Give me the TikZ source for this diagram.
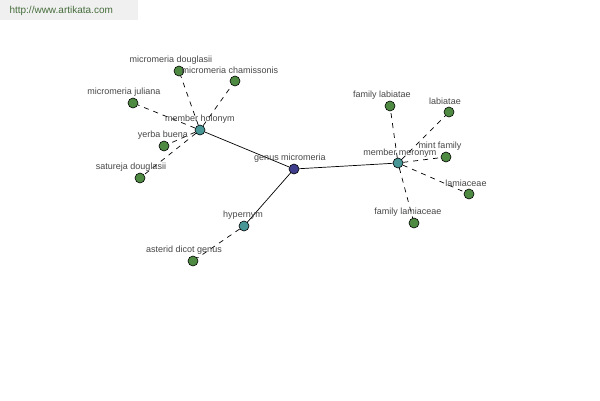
\documentclass[tikz,border=0pt]{standalone}
\usepackage{fontspec}
\setmainfont{Liberation Sans}
\usetikzlibrary{backgrounds}
\definecolor{leafgreen}{RGB}{78,138,66}
\definecolor{reltea}{RGB}{72,150,150}
\definecolor{rootblue}{RGB}{62,62,140}
\definecolor{labelgray}{RGB}{70,70,70}
\definecolor{markgreen}{RGB}{70,110,60}

\begin{document}
\begin{tikzpicture}[x=1pt, y=-1pt,
		dot/.style={circle, draw=black, line width=0.6pt, minimum size=10pt, inner sep=0pt},
		leaf/.style={dot, fill=leafgreen},
		rel/.style={dot, fill=reltea},
		root/.style={dot, fill=rootblue},
		lbl/.style={text=labelgray, font=\fontsize{9}{10}\selectfont, inner sep=0pt},
		link/.style={black, line width=0.7pt},
		weak/.style={black, line width=0.7pt, dash pattern=on 5pt off 5pt}]
		\useasboundingbox (0,0) rectangle (600,400);

		% watermark
		\fill[gray!12] (0,0) rectangle (138,20);
		\node[text=markgreen, font=\fontsize{10}{11}\selectfont, anchor=west] (mark) at (6,11) {http://www.artikata.com};

		% centre and relations
		\node[root] (gm) at (294,169) {};
		\node[rel] (mh) at (200,130) {};
		\node[rel] (mm) at (398,163) {};
		\node[rel] (hyp) at (244,226) {};

		% leaves
		\node[leaf] (adg) at (193,261) {};
		\node[leaf] (mdo) at (179,71) {};
		\node[leaf] (mch) at (235,81) {};
		\node[leaf] (mju) at (133,103) {};
		\node[leaf] (yb) at (164,146) {};
		\node[leaf] (sdo) at (140,178) {};
		\node[leaf] (fla) at (390,106) {};
		\node[leaf] (lab) at (449,112) {};
		\node[leaf] (mf) at (446,157) {};
		\node[leaf] (lam) at (469,194) {};
		\node[leaf] (flm) at (414,223) {};

		% links
		\begin{pgfonlayer}{background}
		\draw[link] (gm) -- (mh);
		\draw[link] (gm) -- (mm);
		\draw[link] (gm) -- (hyp);
		\foreach \n in {mdo, mch, mju, yb, sdo}
			\draw[weak] (mh) -- (\n);
		\foreach \n in {fla, lab, mf, lam, flm}
			\draw[weak] (mm) -- (\n);
		\draw[weak] (hyp) -- (adg);
		\end{pgfonlayer}

		% labels
		\node[lbl] (lgm) at (290,158) {genus micromeria};
		\node[lbl] (lmh) at (200,119) {member holonym};
		\node[lbl] (lmm) at (400,153) {member meronym};
		\node[lbl] (lhyp) at (243,215) {hypernym};
		\node[lbl] (ladg) at (184,250) {asterid dicot genus};
		\node[lbl] (lmdo) at (171,60) {micromeria douglasii};
		\node[lbl] (lmch) at (230,70) {micromeria chamissonis};
		\node[lbl] (lmju) at (124,92) {micromeria juliana};
		\node[lbl] (lyb) at (163,135) {yerba buena};
		\node[lbl] (lsdo) at (131,167) {satureja douglasii};
		\node[lbl] (lfla) at (382,95) {family labiatae};
		\node[lbl] (llab) at (445,101) {labiatae};
		\node[lbl] (lmf) at (440,146) {mint family};
		\node[lbl] (llam) at (466,183) {lamiaceae};
		\node[lbl] (lflm) at (408,212) {family lamiaceae};
	\end{tikzpicture}
\end{document}
